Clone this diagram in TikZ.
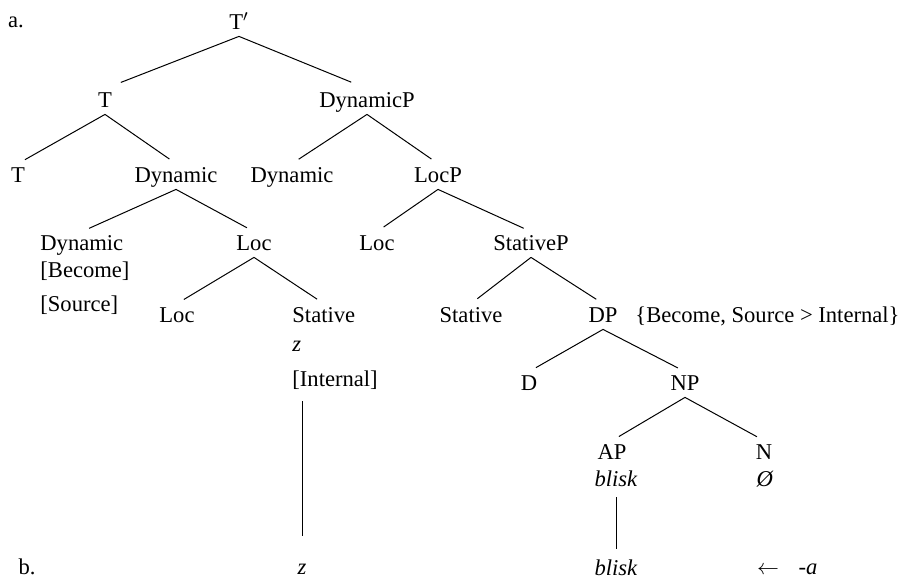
\documentclass[tikz,border=0pt]{standalone}
\usepackage{fontspec}
\setmainfont{Liberation Serif}
\usetikzlibrary{calc}
\tikzstyle{cat}=[inner xsep=0pt,inner ysep=1pt,text height=8pt,text depth=2.5pt,anchor=base,font=\fontsize{11.3}{13}\selectfont]
\tikzstyle{lcat}=[cat,anchor=base west]
\tikzstyle{branch} = [draw,line width=0.5pt,shorten >=4pt]
\tikzstyle{topbranch} = [draw,line width=0.5pt,shorten >=8.5pt]

\begin{document}
\begin{tikzpicture}[x=0.5pt,y=-0.5pt]
    \useasboundingbox (0,0) rectangle (905,578);

    % centred labels
    \foreach \pos/ \name/ \txt in {{(16,27)/laba/a.}, {(239,29)/tbar/T$'$},
        {(105,107)/t/T}, {(367,107)/dynp/DynamicP},
        {(18,182)/t2/T}, {(176,182)/dyn/Dynamic}, {(292,182)/dyn2/Dynamic}, {(438,182)/locp/LocP},
        {(254,250)/loc/Loc}, {(377,250)/loc2/Loc}, {(531,250)/statp/StativeP},
        {(177,322)/loc3/Loc}, {(471,322)/stat2/Stative}, {(603,322)/dp/DP},
        {(529,390)/d/D}, {(685,390)/np/NP},
        {(612,459)/ap/AP}, {(616,486)/bliska/\textit{blisk}}, {(764,459)/n/N}, {(765,486)/null/\textit{Ø}},
        {(27,574)/labb/b.}, {(302,574)/zb/\textit{z}}, {(616,575)/bliskb/\textit{blisk}},
        {(768,574)/arr/$\leftarrow$}, {(808,574)/suff/\textit{-a}}}
        \node[cat] (\name) at \pos {\txt};

    % left aligned stacks
    \foreach \pos/ \name/ \txt in {{(40,250)/dyn3/Dynamic}, {(40,277)/become/[Become]}, {(40,311)/source/[Source]},
        {(292,322)/stat/Stative}, {(292,351)/za/\textit{z}}, {(292,386)/internal/[Internal]},
        {(635,322)/feat/{\{Become, Source > Internal\}}}}
        \node[lcat] (\name) at \pos {\txt};

    % branches
    \foreach \source/ \dest in {tbar/t, tbar/dynp}
        \path[topbranch] (\source.south) -- (\dest.north);
    \foreach \source/ \dest in {t/t2, t/dyn, dynp/dyn2, dynp/locp, dyn/dyn3, dyn/loc, locp/loc2, locp/statp,
        loc/loc3, loc/stat, statp/stat2, statp/dp, dp/d, dp/np, np/ap, np/n}
        \path[branch] (\source.south) -- (\dest.north);

    % vertical links to the second row
    \path[branch,shorten <=4pt,shorten >=10pt] (zb |- internal.south) -- (zb.north);
    \path[branch,shorten <=2pt] (bliska.south) -- (bliskb.north);

\end{tikzpicture}
\end{document}
